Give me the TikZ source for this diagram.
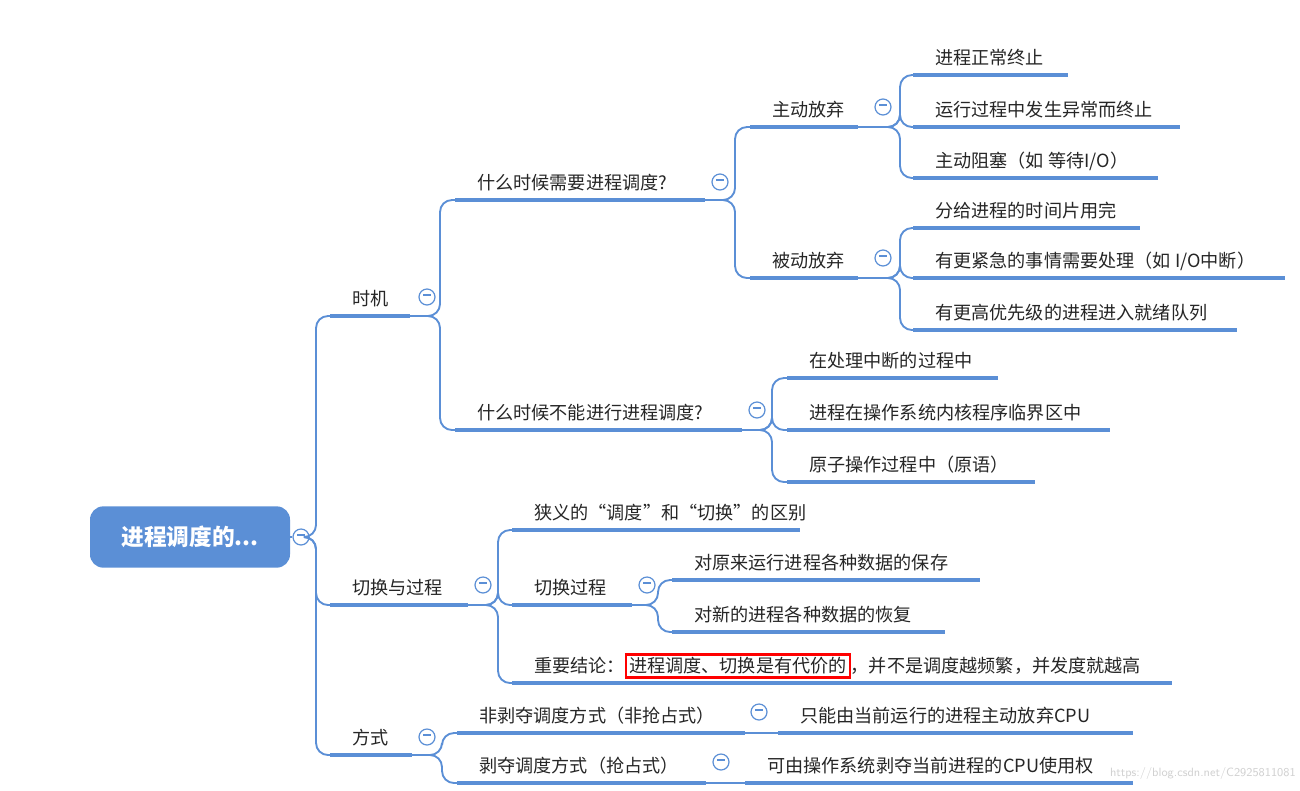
\documentclass[tikz,border=0pt]{standalone}
\usepackage{fontspec}
\newfontfamily\cjk{Noto Sans CJK SC}
\definecolor{cblue}{HTML}{5B8FD6}
\begin{document}
\begin{tikzpicture}[x=0.75pt,y=-0.75pt,
  ul/.style={draw=cblue,line width=3pt},
  lbl/.style={anchor=west,inner sep=0pt,font=\cjk\fontsize{13.6}{15}\selectfont,text=black!85},
  conn/.style={draw=cblue,line width=1.4pt,rounded corners=9pt},
  minus/.style={circle,draw=cblue,line width=0.9pt,minimum size=12pt,inner sep=0pt,fill=white,text=cblue}]
\useasboundingbox[fill=white] (0,0) rectangle (1300,790);
\newcommand\br[5]{\coordinate (#1s) at (#2,#4); \coordinate (#1e) at (#3,#4);
  \draw[ul] (#1s)--(#1e); \node[lbl] (#1) at (#2+22,#4-17) {#5};}
\newcommand\mc[3]{\node[minus] (#1) at (#2,#3) {\rule[2.9pt]{5.5pt}{1pt}};}
\newcommand\cn[3]{\draw[conn] (#1) -| (#2,0 |- #3s) -- (#3s);}
% root
\node[fill=cblue,rounded corners=10pt,minimum width=150pt,minimum height=46pt,text=white,
  font=\cjk\bfseries\fontsize{17}{20}\selectfont] (root) at (190,537) {进程调度的...};
\mc{croot}{301}{537}
\coordinate (rootp) at (308,537);
% level 1
\br{a}{330}{410}{316}{时机} \mc{ca}{427}{297}
\br{b}{330}{468}{605}{切换与过程} \mc{cb}{483}{585}
\br{c}{330}{412}{755}{方式} \mc{cc}{427}{737}
\draw[conn] (root.east)--(croot.west);
\foreach \t in {a,b,c} {\draw[conn] (rootp) -| (316,0 |- \t s) -- (\t s);}
% 时机
\br{a1}{455}{705}{200}{什么时候需要进程调度?} \mc{ca1}{720}{182}
\br{a2}{455}{742}{430}{什么时候不能进行进程调度?} \mc{ca2}{757}{410}
\cn{ae}{440}{a1} \cn{ae}{440}{a2}
\br{a11}{750}{858}{127}{主动放弃} \mc{ca11}{883}{107}
\br{a12}{750}{858}{278}{被动放弃} \mc{ca12}{883}{258}
\cn{a1e}{735}{a11} \cn{a1e}{735}{a12}
\br{l1}{913}{1068}{75}{进程正常终止}
\br{l2}{913}{1180}{127}{运行过程中发生异常而终止}
\br{l3}{913}{1158}{178}{主动阻塞（如 等待I/O）}
\cn{a11e}{900}{l1} \cn{a11e}{900}{l2} \cn{a11e}{900}{l3}
\br{l4}{913}{1140}{228}{分给进程的时间片用完}
\br{l5}{913}{1285}{278}{有更紧急的事情需要处理（如 I/O中断）}
\br{l6}{913}{1237}{330}{有更高优先级的进程进入就绪队列}
\cn{a12e}{900}{l4} \cn{a12e}{900}{l5} \cn{a12e}{900}{l6}
\br{m1}{787}{998}{378}{在处理中断的过程中}
\br{m2}{787}{1110}{430}{进程在操作系统内核程序临界区中}
\br{m3}{787}{1035}{482}{原子操作过程中（原语）}
\cn{a2e}{772}{m1} \cn{a2e}{772}{m2} \cn{a2e}{772}{m3}
% 切换与过程
\br{b1}{512}{800}{530}{狭义的“调度”和“切换”的区别}
\br{b2}{512}{632}{605}{切换过程} \mc{cb2}{647}{585}
\br{b3}{512}{1172}{683}{重要结论：{\setlength{\fboxrule}{1.6pt}\setlength{\fboxsep}{1.5pt}\fcolorbox{red}{white}{进程调度、切换是有代价的}}，并不是调度越频繁，并发度就越高}
\cn{be}{498}{b1} \cn{be}{498}{b2} \cn{be}{498}{b3}
\br{n1}{672}{980}{580}{对原来运行进程各种数据的保存}
\br{n2}{672}{945}{632}{对新的进程各种数据的恢复}
\cn{b2e}{658}{n1} \cn{b2e}{658}{n2}
% 方式
\br{c1}{457}{745}{733}{非剥夺调度方式（非抢占式）} \mc{cc1}{759}{712}
\br{c2}{457}{706}{783}{剥夺调度方式（抢占式）} \mc{cc2}{721}{762}
\cn{ce}{442}{c1} \cn{ce}{442}{c2}
\br{p1}{778}{1133}{733}{只能由当前运行的进程主动放弃CPU}
\br{p2}{745}{1133}{783}{可由操作系统剥夺当前进程的CPU使用权}
\draw[conn] (c1e)--(p1s); \draw[conn] (c2e)--(p2s);
\node[anchor=east,font=\sffamily\fontsize{9}{10}\selectfont,text=black!18,inner sep=0pt] (wm) at (1296,773) {https://blog.csdn.net/C2925811081};
\end{tikzpicture}
\end{document}
